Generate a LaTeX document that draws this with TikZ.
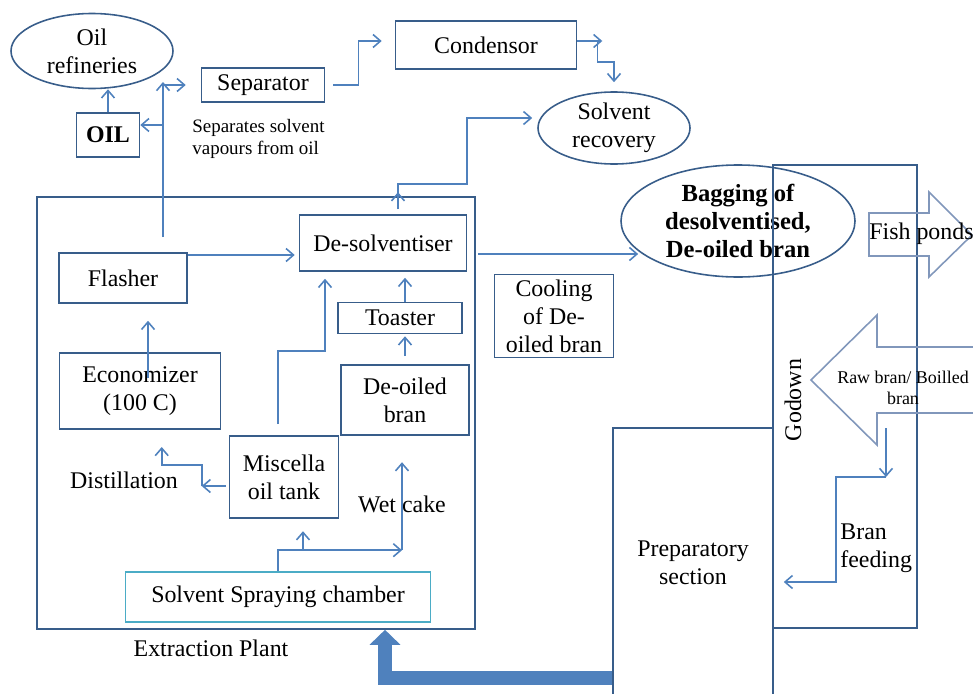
\documentclass[tikz,border=0pt]{standalone}
\usepackage{fontspec}
\setmainfont{Liberation Serif}
\usetikzlibrary{arrows.meta, shapes.geometric}
\definecolor{boxline}{HTML}{385D8A}
\definecolor{flowline}{HTML}{4F81BD}
\definecolor{sprayline}{HTML}{4BACC6}
\definecolor{bigarrowline}{HTML}{8197BB}
\newlength{\unitpx}
\setlength{\unitpx}{0.02cm}
\newcommand{\mainsize}{\fontsize{13.6}{16}\selectfont}
\newcommand{\smallsize}{\fontsize{10.8}{12.5}\selectfont}

\tikzstyle{unit} = [rectangle, draw=boxline, line width=0.9pt, inner sep=0pt, align=center, font=\mainsize]
\tikzstyle{site} = [ellipse, draw=boxline, line width=0.9pt, inner sep=0pt, align=center, font=\mainsize]
\tikzstyle{note} = [inner sep=0pt, align=center, font=\mainsize]
\tikzstyle{smallnote} = [inner sep=0pt, align=left, font=\smallsize]
\tikzstyle{arrow} = [flowline, line width=0.9pt, -{Straight Barb[length=1.5mm,width=2.6mm]}]
\tikzstyle{feed} = [flowline, line width=0.28cm, line join=miter, -{Triangle[length=0.3cm,width=0.6cm]}]
\tikzstyle{blockarrow} = [draw=bigarrowline, line width=0.9pt, line join=miter]

\begin{document}
\begin{tikzpicture}[x=0.02cm, y=-0.02cm]
        \useasboundingbox (0,0) rectangle (973,693);
        \clip (0,0) rectangle (973,693);

        % Nodes
        \node (plant) [unit, minimum width=438\unitpx, minimum height=432\unitpx] at (256,413) {};
        \node (plantlabel) [note] at (211,648) {Extraction Plant};
        \node (refin) [site, minimum width=162\unitpx, minimum height=75\unitpx] at (92,51) {Oil\\refineries};
        \node (oil) [unit, minimum width=63\unitpx, minimum height=44\unitpx, font=\mainsize\bfseries] at (108,135) {OIL};
        \node (sep) [unit, minimum width=123\unitpx, minimum height=34\unitpx] at (263,85) {Separator};
        \node (septext) [smallnote, anchor=west] at (192,139) {Separates solvent\\vapours from oil};
        \node (cond) [unit, minimum width=181\unitpx, minimum height=48\unitpx] at (486,45) {Condensor};
        \node (recov) [site, minimum width=152\unitpx, minimum height=72\unitpx] at (614,128) {Solvent\\recovery};
        \node (flasher) [unit, minimum width=128\unitpx, minimum height=50\unitpx] at (123,278) {Flasher};
        \node (desolv) [unit, minimum width=167\unitpx, minimum height=56\unitpx] at (383,243) {De-solventiser};
        \node (econ) [unit, minimum width=161\unitpx, minimum height=76\unitpx] at (140,391) {Economizer\\(100 C)};
        \node (toaster) [unit, minimum width=124\unitpx, minimum height=31\unitpx] at (400,318) {Toaster};
        \node (deoil) [unit, minimum width=128\unitpx, minimum height=70\unitpx] at (405,400) {De-oiled\\bran};
        \node (misc) [unit, minimum width=109\unitpx, minimum height=82\unitpx] at (284,477) {Miscella\\oil tank};
        \node (distill) [note] at (124,480) {Distillation};
        \node (wetcake) [note] at (402,504) {Wet cake};
        \node (spray) [unit, draw=sprayline, minimum width=305\unitpx, minimum height=50\unitpx] at (278,597) {Solvent Spraying chamber};
        \node (cool) [unit, minimum width=119\unitpx, minimum height=83\unitpx] at (554,316) {Cooling\\of De-\\oiled bran};
        \node (bag) [site, minimum width=234\unitpx, minimum height=112\unitpx, font=\fontsize{14}{16}\selectfont\bfseries] at (738,221) {Bagging of\\desolventised,\\De-oiled bran};
        \node (godown) [unit, minimum width=144\unitpx, minimum height=463\unitpx] at (845,396.5) {};
        \node (godownlabel) [note, rotate=90] at (793,400) {Godown};
        \node (prep) [unit, minimum width=160\unitpx, minimum height=270\unitpx] at (693,563) {Preparatory\\section};
        \node (feeding) [note, align=left, anchor=west] at (840,548) {Bran\\feeding};

        % Block arrows
        \draw [blockarrow] (869,213) -- (929,213) -- (929,192) -- (972,235) -- (929,277) -- (929,256) -- (869,256) -- cycle;
        \node (fish) [note, anchor=west] at (869,234) {Fish ponds};
        \draw [blockarrow] (990,347) -- (877,347) -- (877,315) -- (811,380) -- (877,445) -- (877,413) -- (990,413);
        \node (raw) [note, font=\fontsize{10.2}{12}\selectfont] at (903,388) {Raw bran/ Boilled\\bran};

        % Arrows
        \draw [arrow] (oil.north) -- (oil.north |- refin.south);
        \coordinate (flashtap) at (163,237);
        \draw [arrow] (flashtap) -- (flashtap |- 0,82);
        \draw [arrow, shorten >=15\unitpx] (flashtap |- sep.west) -- (sep.west);
        \draw [arrow] (flashtap |- 0,125) -- (oil.east |- 0,125);
        \draw [arrow, shorten <=8\unitpx, shorten >=13\unitpx] (sep.east) -- ++(33,0) |- (cond.west |- 0,41);
        \draw [arrow] (cond.east |- 0,41) -- ++(25,0);
        \draw [arrow, shorten >=9\unitpx] (cond.east |- 0,41) ++(20,0) -- ++(0,21) -| (recov.north);
        \draw [arrow, shorten <=5\unitpx, shorten >=5\unitpx] ([xshift=15\unitpx]desolv.north) -- ++(0,-30) -- ++(69,0) |- (recov.west |- 0,118);
        \draw [arrow] ([xshift=15\unitpx]desolv.north) ++(0,-5) -- ++(0,-17);
        \draw [arrow, shorten >=4\unitpx] (flasher.east |- 0,255) -- (desolv.west |- 0,255);
        \draw [arrow, shorten <=11\unitpx, shorten >=4\unitpx] (desolv.east |- bag.199) -- (bag.199);
        \coordinate (econtap) at (148,378);
        \draw [arrow, shorten >=17\unitpx] (econtap) -- (econtap |- flasher.south);
        \draw [arrow, shorten >=6\unitpx] (deoil.north |- toaster.north) -- (deoil.north |- desolv.south);
        \draw [arrow, shorten <=8\unitpx, shorten >=2\unitpx] (deoil.north) -- (deoil.north |- toaster.south);
        \draw [arrow, shorten <=11\unitpx, shorten >=7\unitpx] ([xshift=-6\unitpx]misc.north) -- ++(0,-84) -| ([xshift=-58\unitpx]desolv.south);
        \draw [arrow, shorten <=3\unitpx] (misc.west |- 0,486) -- ++(-27,0);
        \draw [arrow] (misc.west |- 0,486) ++(-27,0) |- ++(-40,-21) -- ++(0,-18);
        \draw [arrow] (spray.north) -- ++(0,-21) -- ++(124,0);
        \draw [arrow] (spray.north) ++(124,-21) -- ++(0,-88);
        \draw [arrow] (spray.north) ++(25,-21) -- ++(0,-19);
        \coordinate (drop) at (886,428);
        \draw [arrow] (drop) -- ++(0,49);
        \draw [arrow, shorten >=10\unitpx] (drop) ++(0,49) -- ++(-50,0) |- (prep.east |- 0,582);
        \draw [feed] (prep.west |- 0,678) -| (plant.south -| 385,0);
    \end{tikzpicture}
\end{document}
